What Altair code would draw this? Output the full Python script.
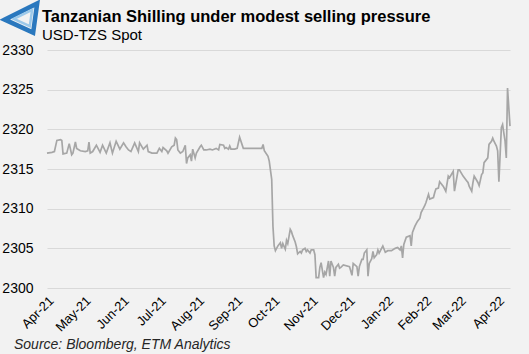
import altair as alt
import pandas as pd

# USD-TZS spot
dates = [
    "2021-04-01", "2021-04-05", "2021-04-07", "2021-04-09", "2021-04-12", "2021-04-13", "2021-04-14",
    "2021-04-17", "2021-04-19", "2021-04-21", "2021-04-22", "2021-04-24", "2021-04-25", "2021-04-28",
    "2021-05-02", "2021-05-04", "2021-05-05", "2021-05-06", "2021-05-08", "2021-05-11", "2021-05-14",
    "2021-05-16", "2021-05-19", "2021-05-22", "2021-05-24", "2021-05-27", "2021-05-30", "2021-06-02",
    "2021-06-04", "2021-06-06", "2021-06-08", "2021-06-11", "2021-06-14", "2021-06-15", "2021-06-18",
    "2021-06-21", "2021-06-22", "2021-06-25", "2021-06-29", "2021-07-01", "2021-07-03", "2021-07-04",
    "2021-07-07", "2021-07-08", "2021-07-11", "2021-07-13", "2021-07-14", "2021-07-15", "2021-07-16",
    "2021-07-18", "2021-07-20", "2021-07-22", "2021-07-23", "2021-07-24", "2021-07-26", "2021-07-27",
    "2021-07-28", "2021-07-30", "2021-07-31", "2021-08-03", "2021-08-04", "2021-08-06", "2021-08-08",
    "2021-08-11", "2021-08-13", "2021-08-16", "2021-08-18", "2021-08-19", "2021-08-22", "2021-08-23",
    "2021-08-24", "2021-08-26", "2021-08-27", "2021-08-28", "2021-08-31", "2021-09-02", "2021-09-04",
    "2021-09-07", "2021-09-12", "2021-09-16", "2021-09-22", "2021-09-23", "2021-09-24", "2021-09-27",
    "2021-09-28", "2021-09-30", "2021-10-01", "2021-10-02", "2021-10-03", "2021-10-05", "2021-10-07",
    "2021-10-08", "2021-10-09", "2021-10-11", "2021-10-12", "2021-10-13", "2021-10-15", "2021-10-16",
    "2021-10-17", "2021-10-19", "2021-10-20", "2021-10-21", "2021-10-23", "2021-10-24", "2021-10-25",
    "2021-10-27", "2021-10-28", "2021-10-29", "2021-10-31", "2021-11-01", "2021-11-03", "2021-11-04",
    "2021-11-05", "2021-11-07", "2021-11-08", "2021-11-09", "2021-11-11", "2021-11-12", "2021-11-13",
    "2021-11-15", "2021-11-16", "2021-11-17", "2021-11-19", "2021-11-20", "2021-11-21", "2021-11-23",
    "2021-11-24", "2021-11-25", "2021-11-27", "2021-12-02", "2021-12-04", "2021-12-05", "2021-12-08",
    "2021-12-09", "2021-12-10", "2021-12-12", "2021-12-13", "2021-12-14", "2021-12-16", "2021-12-17",
    "2021-12-18", "2021-12-20", "2021-12-21", "2021-12-22", "2021-12-24", "2021-12-25", "2021-12-26",
    "2021-12-28", "2021-12-29", "2021-12-31", "2022-01-02", "2022-01-05", "2022-01-08", "2022-01-10",
    "2022-01-12", "2022-01-13", "2022-01-14", "2022-01-15", "2022-01-17", "2022-01-20", "2022-01-21",
    "2022-01-22", "2022-01-24", "2022-01-26", "2022-01-28", "2022-01-29", "2022-01-31", "2022-02-01",
    "2022-02-02", "2022-02-04", "2022-02-05", "2022-02-08", "2022-02-09", "2022-02-10", "2022-02-12",
    "2022-02-13", "2022-02-16", "2022-02-18", "2022-02-20", "2022-02-21", "2022-02-24", "2022-02-25",
    "2022-02-28", "2022-03-01", "2022-03-04", "2022-03-07", "2022-03-08", "2022-03-09", "2022-03-11",
    "2022-03-12", "2022-03-13", "2022-03-16", "2022-03-17", "2022-03-19", "2022-03-20", "2022-03-21",
    "2022-03-24", "2022-03-25", "2022-03-27", "2022-03-28", "2022-03-29", "2022-03-31", "2022-04-01",
    "2022-04-02", "2022-04-04", "2022-04-05", "2022-04-07", "2022-04-08", "2022-04-09", "2022-04-11",
]
spot = [
    2317.0, 2317.1, 2317.2, 2318.6, 2318.7, 2318.6, 2316.9,
    2317.0, 2318.2, 2316.8, 2317.0, 2318.4, 2317.6, 2317.3,
    2317.2, 2317.3, 2318.4, 2317.0, 2317.2, 2318.0, 2317.1,
    2318.0, 2317.0, 2318.3, 2317.0, 2318.5, 2317.5, 2318.3,
    2317.8, 2317.4, 2317.2, 2318.3, 2317.2, 2318.3, 2317.5,
    2318.0, 2317.2, 2317.0, 2317.0, 2317.6, 2317.2, 2317.7,
    2317.3, 2317.0, 2317.8, 2318.0, 2318.9, 2318.7, 2317.4,
    2317.0, 2317.2, 2318.0, 2315.7, 2316.4, 2316.8, 2316.0,
    2317.5, 2316.4, 2317.0, 2317.8, 2318.0, 2317.4, 2317.4,
    2317.5, 2317.4, 2317.6, 2317.4, 2318.1, 2318.0, 2317.6,
    2317.7, 2317.5, 2317.9, 2317.5, 2317.5, 2317.6, 2319.0,
    2317.6, 2317.6, 2317.6, 2317.6, 2318.1, 2317.3, 2316.6,
    2316.0, 2313.7, 2307.8, 2305.3, 2304.7, 2305.3, 2305.7,
    2305.0, 2305.6, 2304.9, 2306.0, 2305.6, 2307.4, 2307.1,
    2306.6, 2305.8, 2305.2, 2304.3, 2304.6, 2304.4, 2304.8,
    2305.0, 2304.6, 2304.8, 2304.4, 2304.8, 2304.8, 2304.2,
    2301.3, 2301.3, 2302.6, 2303.2, 2301.3, 2302.0, 2301.7,
    2303.4, 2301.5, 2303.4, 2302.6, 2301.5, 2302.6, 2303.0,
    2302.5, 2302.6, 2302.9, 2302.7, 2301.6, 2303.1, 2302.7,
    2301.5, 2302.7, 2303.6, 2303.6, 2304.4, 2304.8, 2301.5,
    2303.1, 2303.7, 2304.6, 2303.8, 2304.2, 2304.8, 2304.4,
    2305.0, 2305.3, 2304.5, 2304.7, 2304.7, 2305.0, 2305.1,
    2304.8, 2305.3, 2303.8, 2305.5, 2306.4, 2306.6, 2305.3,
    2307.0, 2307.8, 2308.4, 2308.8, 2309.5, 2310.1, 2310.4,
    2310.8, 2311.8, 2311.2, 2311.4, 2312.0, 2312.5, 2312.6,
    2313.4, 2312.8, 2312.2, 2314.1, 2313.9, 2314.7, 2312.2,
    2314.9, 2314.9, 2314.1, 2313.5, 2313.3, 2312.8, 2312.2,
    2313.3, 2314.1, 2313.3, 2312.9, 2314.3, 2314.5, 2315.8,
    2316.4, 2318.1, 2318.5, 2318.9, 2318.5, 2317.9, 2317.3,
    2313.4, 2320.2, 2320.6, 2318.5, 2316.4, 2325.2, 2320.4,
]
y_ticks = [2300, 2305, 2310, 2315, 2320, 2325, 2330]
month_ticks = [(2021, m) for m in range(4, 13)] + [(2022, m) for m in range(1, 5)]

title_text = "Tanzanian Shilling under modest selling pressure"
subtitle_text = "USD-TZS Spot"
source_text = "Source: Bloomberg, ETM Analytics"

df = pd.DataFrame({"date": dates, "spot": spot})
FONT = "Liberation Sans"

line = alt.Chart(df).mark_line(color="#a6a6a6", strokeWidth=1.7).encode(
    x=alt.X(
        "date:T",
        scale=alt.Scale(domain=[alt.DateTime(year=2021, month=4, date=1),
                                alt.DateTime(year=2022, month=4, date=11)]),
        axis=alt.Axis(
            values=[alt.DateTime(year=y, month=m, date=1) for y, m in month_ticks],
            format="%b-%y", formatType="time", labelAngle=-45, labelFontSize=13,
            labelColor="#000000", labelFont=FONT, grid=False, ticks=False, domain=False,
            labelPadding=6, labelOverlap=False, labelBound=False, title=None,
        ),
    ),
    y=alt.Y(
        "spot:Q",
        scale=alt.Scale(domain=[2300, 2330], nice=False, zero=False),
        axis=alt.Axis(
            values=y_ticks, format="d", labelFontSize=14, labelColor="#000000",
            labelFont=FONT, ticks=False, domain=False, labelPadding=14,
            gridColor="#d9d9d9", gridWidth=1, title=None,
        ),
    ),
)

def text_layer(txt, x, y, size, weight="normal", style="normal", color="#000000"):
    return alt.Chart(pd.DataFrame({"t": [txt]})).mark_text(
        align="left", baseline="alphabetic", fontSize=size, fontWeight=weight,
        fontStyle=style, font=FONT, color=color,
    ).encode(text="t:N", x=alt.value(x), y=alt.value(y))

title = text_layer(title_text, -5, -28, 16.5, weight="bold")
subtitle = text_layer(subtitle_text, -5, -10, 15)
src = text_layer(source_text, -33, 299, 14, style="italic", color="#262626")

logo_shape = "M -1 0.1 L 1 -0.9 L 0.75 0.9 Z"
logo_outer = alt.Chart(pd.DataFrame({"k": [1]})).mark_point(
    shape=logo_shape, filled=False, stroke="#2a78be",
    strokeWidth=4.5, size=1050, opacity=1,
).encode(x=alt.value(-26), y=alt.value(-32))
logo_inner = alt.Chart(pd.DataFrame({"k": [1]})).mark_point(
    shape=logo_shape, filled=False, stroke="#9cc9ea",
    strokeWidth=2.5, size=330, opacity=1,
).encode(x=alt.value(-24), y=alt.value(-32))

chart = alt.layer(line, title, subtitle, src, logo_outer, logo_inner).properties(
    width=463, height=238,
    background="#f2f2f2",
    padding={"left": 47, "top": 50, "right": 19, "bottom": 66},
    autosize=alt.AutoSizeParams(type="none"),
).configure_view(stroke=None)

chart.save("out.html", embed_options={"renderer": "svg", "actions": False})
